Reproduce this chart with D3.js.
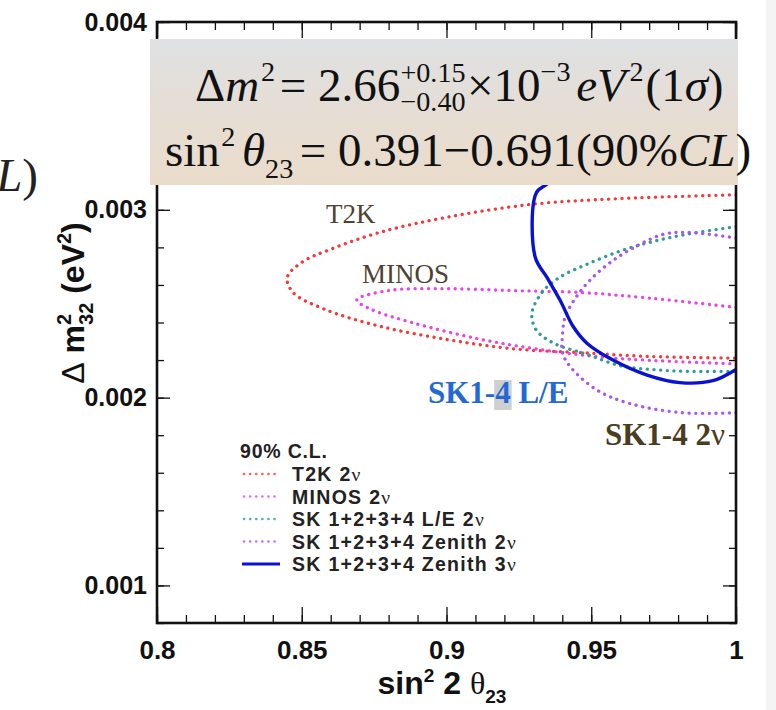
<!DOCTYPE html>
<html>
<head>
<meta charset="utf-8">
<script src="https://cdn.jsdelivr.net/npm/d3@7"></script>
<style>
  body { margin: 0; background: #fff; }
  svg { display: block; }
</style>
</head>
<body>
<svg id="chart" width="776" height="710"></svg>
<script>
// ---- axis ticks ----
const xTicks = [0.8, 0.85, 0.9, 0.95, 1.0];
const xTickLabels = ["0.8", "0.85", "0.9", "0.95", "1"];
const yTicks = [0.001, 0.002, 0.003, 0.004];
const yTickLabels = ["0.001", "0.002", "0.003", "0.004"];

// ---- 90% C.L. contours: [sin^2 2θ23, Δm^2_32 (eV^2)] ----
const t2k = [
  [1.000, 0.00308], [0.960, 0.00306], [0.930, 0.00303], [0.900, 0.00296],
  [0.877, 0.00288], [0.860, 0.00279], [0.850, 0.00272], [0.845, 0.00264],
  [0.847, 0.00256], [0.858, 0.00247], [0.877, 0.00238], [0.900, 0.00231],
  [0.923, 0.00226], [0.946, 0.00224], [0.969, 0.00222], [1.000, 0.00221]
];
const minos = [
  [1.000, 0.00248], [0.970, 0.00253], [0.946, 0.00256], [0.923, 0.00257],
  [0.900, 0.00258], [0.880, 0.00257], [0.869, 0.00252], [0.874, 0.00247],
  [0.888, 0.00240], [0.912, 0.00231], [0.935, 0.00225], [0.958, 0.00221],
  [1.000, 0.00218]
];
const skLE = [
  [1.000, 0.00291], [0.983, 0.00287], [0.971, 0.00283], [0.960, 0.00278],
  [0.9485, 0.00271], [0.939, 0.00264], [0.933, 0.00256], [0.9295, 0.00245],
  [0.931, 0.00236], [0.937, 0.00229], [0.9485, 0.00223], [0.960, 0.00217],
  [0.971, 0.00215], [0.983, 0.00214], [1.000, 0.00214]
];
const skZen2 = [
  [1.000, 0.00285], [0.983, 0.00288], [0.975, 0.00287], [0.966, 0.00281],
  [0.9575, 0.00273], [0.9505, 0.00264], [0.945, 0.00254], [0.941, 0.00243],
  [0.940, 0.00232], [0.940, 0.00224], [0.943, 0.00216], [0.952, 0.00204],
  [0.963, 0.00197], [0.981, 0.00192], [1.000, 0.00192]
];
const skZen3 = [
  [0.960, 0.00350], [0.945, 0.00330], [0.935, 0.00314], [0.931, 0.00309],
  [0.9306, 0.00275], [0.9347, 0.00264], [0.9392, 0.00252], [0.9437, 0.00238],
  [0.9485, 0.00229], [0.9575, 0.00220], [0.9693, 0.00212], [0.9806, 0.00208],
  [0.992, 0.00209], [1.000, 0.00215]
];

const seriesNames = ["T2K 2", "MINOS 2", "SK 1+2+3+4 L/E 2", "SK 1+2+3+4 Zenith 2", "SK 1+2+3+4 Zenith 3"];
const seriesData = [t2k, minos, skLE, skZen2, skZen3];
const seriesColors = ["#f23a3a", "#e845e8", "#2f9c98", "#a855f2", "#0a12d2"];
const seriesDotted = [true, true, true, true, false];

const svg = d3.select("#chart");
const W = 776, H = 710;
const L = 157, R = 736, T = 22, B = 623;

const x = d3.scaleLinear().domain([0.8, 1.0]).range([L, R]);
const y = d3.scaleLinear().domain([0.0008, 0.004]).range([B, T]);

// faint strip at the right edge of the page
svg.append("rect").attr("x", 766).attr("y", 0).attr("width", 10).attr("height", H).attr("fill", "#f4f4f4");

// ---- clip for contours ----
const defs = svg.append("defs");
defs.append("clipPath").attr("id", "plotClip")
  .append("rect").attr("x", L).attr("y", T).attr("width", R - L).attr("height", B - T);

const line = d3.line().x(d => x(d[0])).y(d => y(d[1])).curve(d3.curveCatmullRom.alpha(0.5));

const plot = svg.append("g").attr("clip-path", "url(#plotClip)");
seriesData.forEach((data, i) => {
  const p = plot.append("path")
    .attr("d", line(data))
    .attr("fill", "none")
    .attr("stroke", seriesColors[i]);
  if (seriesDotted[i]) {
    p.attr("stroke-width", 3.3).attr("stroke-linecap", "round").attr("stroke-dasharray", "0.1,6.6");
  } else {
    p.attr("stroke-width", 3.4).attr("stroke-linejoin", "round");
  }
});

// ---- axes with inward ticks on all four sides ----
const tickFont = "'Liberation Sans', Arial, sans-serif";
const xMinor = d3.range(80, 101).map(i => i / 100);
const yMinor = d3.range(8, 41, 2).map(i => i / 10000);

function styleAxis(g) {
  g.select(".domain").remove();
  g.selectAll("line").attr("stroke", "#111").attr("stroke-width", 1.3);
}

svg.append("g").attr("transform", `translate(0,${B})`)
  .call(d3.axisBottom(x).tickValues(xMinor).tickSize(-8).tickFormat(""))
  .call(styleAxis);
svg.append("g").attr("transform", `translate(0,${B})`)
  .call(d3.axisBottom(x).tickValues(xTicks).tickSize(-16).tickPadding(18)
    .tickFormat((d, i) => xTickLabels[i]))
  .call(styleAxis)
  .call(g => g.selectAll("text").attr("font-family", tickFont).attr("font-weight", "bold")
    .attr("font-size", 26).attr("fill", "#111"));
svg.append("g").attr("transform", `translate(0,${T})`)
  .call(d3.axisTop(x).tickValues(xMinor).tickSize(-8).tickFormat(""))
  .call(styleAxis);
svg.append("g").attr("transform", `translate(0,${T})`)
  .call(d3.axisTop(x).tickValues(xTicks).tickSize(-16).tickFormat(""))
  .call(styleAxis);

svg.append("g").attr("transform", `translate(${L},0)`)
  .call(d3.axisLeft(y).tickValues(yMinor).tickSize(-7).tickFormat(""))
  .call(styleAxis);
svg.append("g").attr("transform", `translate(${L},0)`)
  .call(d3.axisLeft(y).tickValues(yTicks).tickSize(-13).tickPadding(10)
    .tickFormat((d, i) => yTickLabels[i]))
  .call(styleAxis)
  .call(g => g.selectAll("text").attr("font-family", tickFont).attr("font-weight", "bold")
    .attr("font-size", 25).attr("fill", "#111"));
svg.append("g").attr("transform", `translate(${R},0)`)
  .call(d3.axisRight(y).tickValues(yMinor).tickSize(-7).tickFormat(""))
  .call(styleAxis);
svg.append("g").attr("transform", `translate(${R},0)`)
  .call(d3.axisRight(y).tickValues(yTicks).tickSize(-13).tickFormat(""))
  .call(styleAxis);

// frame
svg.append("rect").attr("x", L).attr("y", T).attr("width", R - L).attr("height", B - T)
  .attr("fill", "none").attr("stroke", "#111").attr("stroke-width", 2.6);

// ---- axis titles ----
const xt = svg.append("text").attr("x", 442).attr("y", 694).attr("text-anchor", "middle")
  .attr("font-family", tickFont).attr("font-weight", "bold").attr("font-size", 32).attr("fill", "#111");
xt.append("tspan").text("sin");
xt.append("tspan").attr("font-size", 19).attr("dy", -12).text("2");
xt.append("tspan").attr("dy", 12).text(" 2 ");
xt.append("tspan").attr("font-family", "'Liberation Serif', serif").attr("font-weight", "normal").text("θ");
xt.append("tspan").attr("font-size", 19).attr("dy", 9).text("23");

const yt = svg.append("text").attr("transform", "translate(84,303) rotate(-90)").attr("text-anchor", "middle")
  .attr("font-family", tickFont).attr("font-weight", "bold").attr("font-size", 32).attr("fill", "#111");
yt.append("tspan").attr("font-weight", "normal").text("Δ");
yt.append("tspan").text(" m");
yt.append("tspan").attr("font-size", 20).attr("dy", -13).text("2");
yt.append("tspan").attr("font-size", 20).attr("dx", -11).attr("dy", 22).text("32");
yt.append("tspan").attr("dy", -9).text(" (eV");
yt.append("tspan").attr("font-size", 20).attr("dy", -13).text("2");
yt.append("tspan").attr("dy", 13).text(")");

// ---- in-plot annotations ----
const serif = "'Liberation Serif', 'Times New Roman', serif";
svg.append("text").attr("x", 326).attr("y", 223).attr("font-family", serif).attr("font-size", 27)
  .attr("fill", "#4d4330").text("T2K");
svg.append("text").attr("x", 362).attr("y", 283).attr("font-family", serif).attr("font-size", 27)
  .attr("fill", "#4d4330").text("MINOS");

const leText = svg.append("text").attr("x", 428).attr("y", 403).attr("font-family", serif)
  .attr("font-weight", "bold").attr("font-size", 31).attr("fill", "#2468d8").text("SK1-4 L/E");
{
  const n = leText.node();
  const sx = n.getStartPositionOfChar(4).x;
  const w = n.getSubStringLength(4, 1);
  svg.insert("rect", () => n).attr("x", sx - 1).attr("y", 380).attr("width", w + 2).attr("height", 30)
    .attr("fill", "#cfcfcf");
}
const sk2 = svg.append("text").attr("x", 605).attr("y", 445).attr("font-family", serif)
  .attr("font-weight", "bold").attr("font-size", 31).attr("fill", "#4a3c1e");
sk2.append("tspan").text("SK1-4 2");
sk2.append("tspan").attr("font-weight", "normal").text("ν");

// ---- legend ----
const legX = 242, legY0 = 481, legDY = 22.5;
svg.append("text").attr("x", 240).attr("y", 458).attr("font-family", tickFont).attr("font-weight", "bold")
  .attr("font-size", 19.5).attr("letter-spacing", 0.8).attr("fill", "#222").text("90% C.L.");
seriesNames.forEach((name, i) => {
  const yy = legY0 + i * legDY;
  const ln = svg.append("line").attr("x1", legX + 2).attr("x2", legX + 38).attr("y1", yy - 7).attr("y2", yy - 7)
    .attr("stroke", seriesColors[i]);
  if (seriesDotted[i]) {
    ln.attr("stroke-width", 2.6).attr("stroke-linecap", "round").attr("stroke-dasharray", "0.1,6").attr("opacity", 0.8);
  } else {
    ln.attr("x1", legX).attr("stroke-width", 3.2);
  }
  const tx = svg.append("text").attr("x", 292).attr("y", yy).attr("font-family", tickFont)
    .attr("font-weight", "bold").attr("font-size", 19.5).attr("letter-spacing", 1.3).attr("fill", "#222");
  tx.append("tspan").text(name);
  tx.append("tspan").attr("font-family", serif).attr("font-weight", "normal").text("ν");
});

// ---- result box ----
const grad = defs.append("linearGradient").attr("id", "boxGrad")
  .attr("x1", 0).attr("y1", 0).attr("x2", 0).attr("y2", 1);
grad.append("stop").attr("offset", "0%").attr("stop-color", "#dfe1e3");
grad.append("stop").attr("offset", "55%").attr("stop-color", "#e6ddd3");
grad.append("stop").attr("offset", "100%").attr("stop-color", "#eadccb");
svg.append("rect").attr("x", 150).attr("y", 39).attr("width", 588).attr("height", 146).attr("fill", "url(#boxGrad)");

// lay out a run of formula pieces left to right, measuring each one
function formula(x0, base, F, pieces) {
  let cx = x0;
  const g = svg.append("g").attr("font-family", serif).attr("fill", "#111");
  pieces.forEach(p => {
    if (p.stack) {
      let wMax = 0;
      p.stack.forEach(s => {
        const t = g.append("text").attr("x", cx).attr("y", base + s.dy * F)
          .attr("font-size", F * s.s).text(s.t);
        wMax = Math.max(wMax, t.node().getComputedTextLength());
      });
      cx += wMax + (p.gap || 0) * F;
    } else {
      cx += (p.pre || 0) * F;
      const t = g.append("text").attr("x", cx).attr("y", base + (p.dy || 0) * F)
        .attr("font-size", F * (p.s || 1)).attr("font-style", p.it ? "italic" : "normal").text(p.t);
      cx += t.node().getComputedTextLength() + (p.gap || 0) * F;
    }
  });
  return cx;
}

const F = 47;
formula(195, 101, F, [
  { t: "Δ" }, { t: "m", it: true }, { t: "2", s: 0.6, dy: -0.42, pre: 0.04, gap: 0.1 },
  { t: "= 2.66" },
  { stack: [{ t: "+0.15", s: 0.6, dy: -0.4 }, { t: "−0.40", s: 0.6, dy: 0.22 }], gap: 0.03 },
  { t: "×10" }, { t: "−3", s: 0.6, dy: -0.42, gap: 0.12 },
  { t: "eV", it: true }, { t: "2", s: 0.6, dy: -0.42, pre: 0.08, gap: 0.04 },
  { t: "(1" }, { t: "σ", it: true }, { t: ")" }
]);
formula(165, 166, F, [
  { t: "sin" }, { t: "2", s: 0.6, dy: -0.42, pre: 0.03, gap: 0.14 },
  { t: "θ", it: true }, { t: "23", s: 0.6, dy: 0.25, gap: 0.14 },
  { t: "= 0.391−0.691(90%" }, { t: "CL", it: true }, { t: ")" }
]);

// cut-off text at the left page edge
const cut = svg.append("text").attr("x", 38).attr("y", 191).attr("text-anchor", "end").attr("font-family", serif)
  .attr("font-size", F).attr("fill", "#222");
cut.append("tspan").attr("font-style", "italic").text("L");
cut.append("tspan").text(")");
</script>
</body>
</html>
